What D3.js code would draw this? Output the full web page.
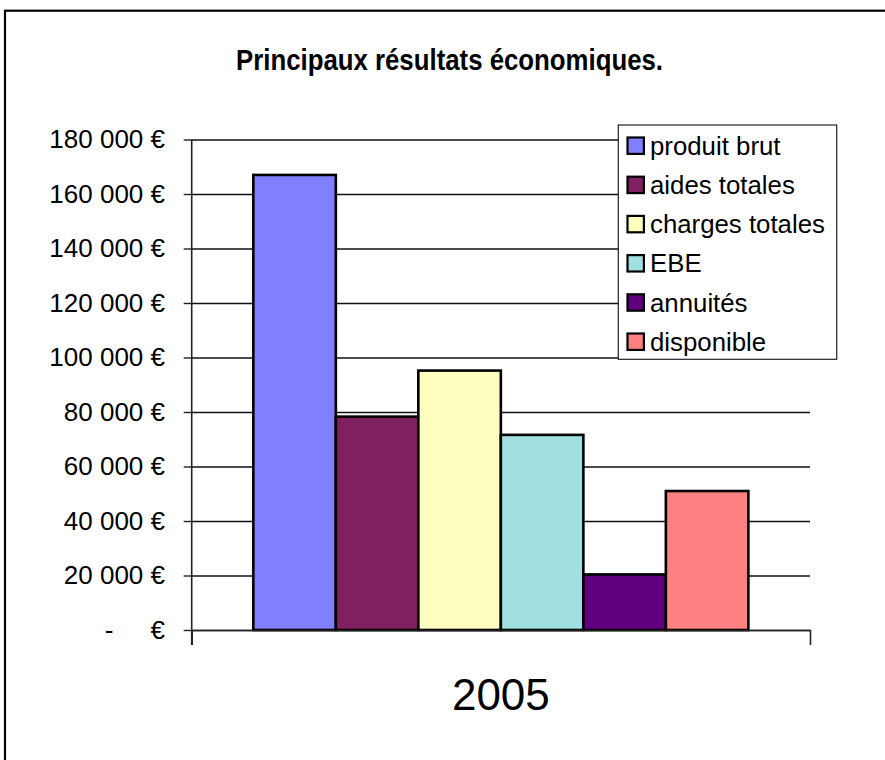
<!DOCTYPE html>
<html>
<head>
<meta charset="utf-8">
<script src="https://cdn.jsdelivr.net/npm/d3@7"></script>
<style>
  body { margin: 0; background: #fff; }
  svg { display: block; font-family: "Liberation Sans", Arial, sans-serif; }
</style>
</head>
<body>
<svg id="chart" width="885" height="760"></svg>
<script>
// data
const categories = ["2005"];
const seriesNames = ["produit brut", "aides totales", "charges totales", "EBE", "annuités", "disponible"];
const seriesValues = [167000, 78300, 95200, 71600, 20400, 51000];
const yTicks = [0, 20000, 40000, 60000, 80000, 100000, 120000, 140000, 160000, 180000];
const chartTitle = "Principaux résultats économiques.";

const svg = d3.select("#chart");

// plot box
const plotLeft = 191.7, plotRight = 810, plotTop = 139.5, plotBottom = 630;

// outer chart frame (cut off at the right and bottom)
svg.append("rect")
  .attr("x", 5).attr("y", 10.7)
  .attr("width", 1000).attr("height", 1000)
  .attr("fill", "none").attr("stroke", "#000").attr("stroke-width", 2.2);

const fr = d3.formatLocale({ decimal: ",", thousands: "\u00a0", grouping: [3], currency: ["", "\u00a0€"] });
const fmt = fr.format("$,");

const y = d3.scaleLinear().domain([0, 180000]).range([plotBottom, plotTop]);
const x0 = d3.scaleBand().domain(categories).range([plotLeft, plotRight]).paddingInner(0).paddingOuter(0.1245);
const x1 = d3.scaleBand().domain(seriesNames).range([0, x0.bandwidth()]).padding(0);
const color = d3.scaleOrdinal().domain(seriesNames)
  .range(["#8080ff", "#802060", "#ffffc0", "#a0e0e0", "#600080", "#ff8080"]);

// gridlines
const grid = svg.append("g").attr("transform", `translate(${plotLeft},0)`)
  .call(d3.axisRight(y).tickValues(yTicks).tickSize(plotRight - plotLeft).tickFormat(""));
grid.select(".domain").remove();
grid.selectAll("line").attr("stroke", "#111").attr("stroke-width", 1.3);

// bars
svg.append("g").selectAll("rect")
  .data(seriesNames.map((n, i) => ({ name: n, value: seriesValues[i], cat: categories[0] })))
  .enter().append("rect")
  .attr("x", d => x0(d.cat) + x1(d.name))
  .attr("y", d => y(d.value))
  .attr("width", x1.bandwidth())
  .attr("height", d => y(0) - y(d.value))
  .attr("fill", d => color(d.name))
  .attr("stroke", "#000").attr("stroke-width", 2.6);

// y axis
const yAxis = svg.append("g").attr("transform", `translate(${plotLeft},0)`)
  .call(d3.axisLeft(y).tickValues(yTicks).tickSize(8).tickSizeOuter(0).tickPadding(18.7)
    .tickFormat(d => d === 0 ? "€" : fmt(d)));
yAxis.select(".domain").remove();
yAxis.selectAll("line").attr("stroke", "#222").attr("stroke-width", 1.4);
yAxis.selectAll("text").attr("font-size", 26).attr("fill", "#000")
  .attr("font-family", "'Liberation Sans', Arial, sans-serif");
yAxis.selectAll(".tick").filter(d => d === 0).append("text")
  .attr("x", -82.5).attr("dy", "0.32em").attr("text-anchor", "middle")
  .attr("font-size", 26).attr("fill", "#000").text("-");
svg.append("line")
  .attr("x1", plotLeft).attr("x2", plotLeft).attr("y1", plotTop).attr("y2", plotBottom + 15)
  .attr("stroke", "#222").attr("stroke-width", 1.6);

// x axis
const xAxis = svg.append("g").attr("transform", `translate(0,${plotBottom})`)
  .call(d3.axisBottom(x0).tickSizeInner(0).tickSizeOuter(15).tickPadding(48.8));
xAxis.select(".domain").attr("stroke", "#222").attr("stroke-width", 1.6);
xAxis.selectAll("text").attr("font-size", 44).attr("fill", "#000")
  .attr("font-family", "'Liberation Sans', Arial, sans-serif");

// title (the original is a bit stretched vertically)
svg.append("g").attr("transform", "translate(449.5,70) scale(1,1.17)")
  .append("text")
  .attr("text-anchor", "middle").attr("font-size", 25.8).attr("font-weight", "bold")
  .text(chartTitle);

// legend
const lg = svg.append("g").attr("transform", "translate(618.3,125)");
lg.append("rect").attr("width", 218.4).attr("height", 234.3)
  .attr("fill", "#fff").attr("stroke", "#222").attr("stroke-width", 1.2);
const item = lg.selectAll("g.item").data(seriesNames).enter().append("g")
  .attr("class", "item")
  .attr("transform", (d, i) => `translate(0,${20.7 + i * 39.2})`);
item.append("rect")
  .attr("x", 9.2).attr("y", -8.2).attr("width", 16.4).attr("height", 16.4)
  .attr("fill", d => color(d)).attr("stroke", "#000").attr("stroke-width", 2.2);
item.append("text")
  .attr("x", 31.7).attr("dy", "0.35em").attr("font-size", 25.8).attr("fill", "#000")
  .text(d => d);
</script>
</body>
</html>
